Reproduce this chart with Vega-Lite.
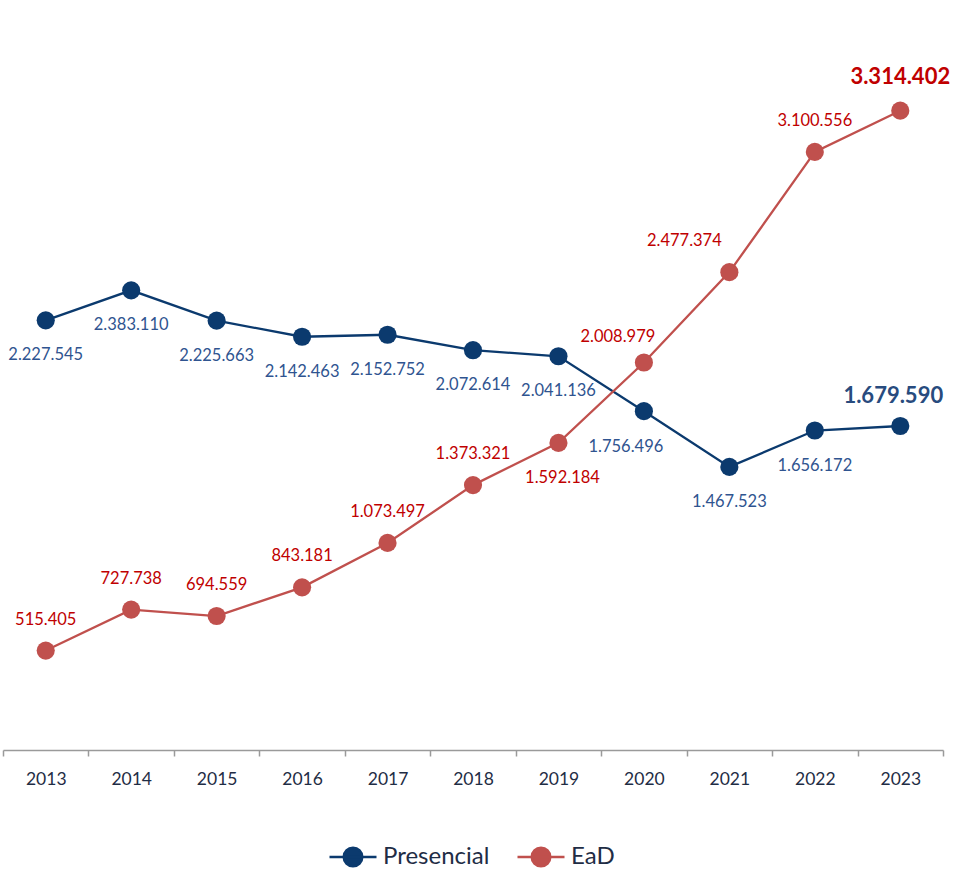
{
  "$schema": "https://vega.github.io/schema/vega-lite/v6.json",
  "width": 940,
  "height": 733,
  "autosize": {"type": "none"},
  "padding": {"left": 3, "top": 17, "right": 23, "bottom": 123},
  "background": "white",
  "config": {
    "view": {"stroke": null},
    "font": "Lato",
    "locale": {"number": {"decimal": ",", "thousands": ".", "grouping": [3], "currency": ["R$", ""]}}
  },
  "data": {
    "values": [
      {"ano": 2013, "serie": "Presencial", "valor": 2227545},
      {"ano": 2014, "serie": "Presencial", "valor": 2383110},
      {"ano": 2015, "serie": "Presencial", "valor": 2225663},
      {"ano": 2016, "serie": "Presencial", "valor": 2142463},
      {"ano": 2017, "serie": "Presencial", "valor": 2152752},
      {"ano": 2018, "serie": "Presencial", "valor": 2072614},
      {"ano": 2019, "serie": "Presencial", "valor": 2041136},
      {"ano": 2020, "serie": "Presencial", "valor": 1756496},
      {"ano": 2021, "serie": "Presencial", "valor": 1467523},
      {"ano": 2022, "serie": "Presencial", "valor": 1656172},
      {"ano": 2023, "serie": "Presencial", "valor": 1679590},
      {"ano": 2013, "serie": "EaD", "valor": 515405},
      {"ano": 2014, "serie": "EaD", "valor": 727738},
      {"ano": 2015, "serie": "EaD", "valor": 694559},
      {"ano": 2016, "serie": "EaD", "valor": 843181},
      {"ano": 2017, "serie": "EaD", "valor": 1073497},
      {"ano": 2018, "serie": "EaD", "valor": 1373321},
      {"ano": 2019, "serie": "EaD", "valor": 1592184},
      {"ano": 2020, "serie": "EaD", "valor": 2008979},
      {"ano": 2021, "serie": "EaD", "valor": 2477374},
      {"ano": 2022, "serie": "EaD", "valor": 3100556},
      {"ano": 2023, "serie": "EaD", "valor": 3314402}
    ]
  },
  "encoding": {
    "x": {
      "field": "ano", "type": "ordinal",
      "scale": {"type": "band", "paddingInner": 0, "paddingOuter": 0},
      "axis": {
        "title": null, "labelAngle": 0, "tickBand": "extent",
        "domainColor": "#9a9a9a", "domainWidth": 1.5,
        "tickColor": "#9a9a9a", "tickWidth": 1.5, "tickSize": 6,
        "labelFontSize": 17.5, "labelColor": "#1f2d45", "labelPadding": 14,
        "grid": false
      }
    },
    "y": {
      "field": "valor", "type": "quantitative",
      "scale": {"domain": [0, 3800000], "nice": false},
      "axis": null
    }
  },
  "layer": [
    {
      "mark": {"type": "line", "strokeWidth": 2.3},
      "encoding": {
        "color": {
          "field": "serie", "type": "nominal",
          "scale": {"domain": ["Presencial", "EaD"], "range": ["#0b3a6e", "#c0504d"]},
          "legend": {
            "title": null, "orient": "none", "legendX": 325, "legendY": 815,
            "direction": "horizontal",
            "symbolType": "M-1,0H1M0.4,0A0.4,0.4,0,1,1,-0.4,0A0.4,0.4,0,1,1,0.4,0Z",
            "symbolSize": 2209, "symbolStrokeWidth": 2.3,
            "labelFontSize": 24, "labelColor": "#1f2d45", "labelOffset": 5,
            "columnPadding": 22,
            "encode": {"symbols": {"update": {"fill": {"scale": "color", "field": "value"}, "stroke": {"scale": "color", "field": "value"}, "opacity": {"value": 1}}}}
          }
        }
      }
    },
    {
      "mark": {"type": "point", "filled": true, "size": 330, "opacity": 1},
      "encoding": {
        "color": {"field": "serie", "type": "nominal", "legend": null}
      }
    },
    {
      "transform": [{"filter": "datum.serie === 'Presencial' && datum.ano !== 2020 && datum.ano !== 2023"}],
      "mark": {"type": "text", "dy": 35, "fontSize": 16.5, "color": "#2f5490"},
      "encoding": {"text": {"field": "valor", "type": "quantitative", "format": ",d"}}
    },
    {
      "transform": [{"filter": "datum.serie === 'Presencial' && datum.ano === 2020"}],
      "mark": {"type": "text", "dx": -18, "dy": 36, "fontSize": 16.5, "color": "#2f5490"},
      "encoding": {"text": {"field": "valor", "type": "quantitative", "format": ",d"}}
    },
    {
      "transform": [{"filter": "datum.serie === 'Presencial' && datum.ano === 2023"}],
      "mark": {"type": "text", "dx": -7, "dy": -30, "fontSize": 22, "fontWeight": "bold", "color": "#284b7e"},
      "encoding": {"text": {"field": "valor", "type": "quantitative", "format": ",d"}}
    },
    {
      "transform": [{"filter": "datum.serie === 'EaD' && (datum.ano <= 2018 || datum.ano === 2022)"}],
      "mark": {"type": "text", "dy": -31, "fontSize": 16.5, "color": "#c00000"},
      "encoding": {"text": {"field": "valor", "type": "quantitative", "format": ",d"}}
    },
    {
      "transform": [{"filter": "datum.serie === 'EaD' && datum.ano === 2019"}],
      "mark": {"type": "text", "dx": 4, "dy": 35, "fontSize": 16.5, "color": "#c00000"},
      "encoding": {"text": {"field": "valor", "type": "quantitative", "format": ",d"}}
    },
    {
      "transform": [{"filter": "datum.serie === 'EaD' && datum.ano === 2020"}],
      "mark": {"type": "text", "dx": -26, "dy": -25, "fontSize": 16.5, "color": "#c00000"},
      "encoding": {"text": {"field": "valor", "type": "quantitative", "format": ",d"}}
    },
    {
      "transform": [{"filter": "datum.serie === 'EaD' && datum.ano === 2021"}],
      "mark": {"type": "text", "dx": -45, "dy": -31, "fontSize": 16.5, "color": "#c00000"},
      "encoding": {"text": {"field": "valor", "type": "quantitative", "format": ",d"}}
    },
    {
      "transform": [{"filter": "datum.serie === 'EaD' && datum.ano === 2023"}],
      "mark": {"type": "text", "dy": -34, "fontSize": 22, "fontWeight": "bold", "color": "#c00000"},
      "encoding": {"text": {"field": "valor", "type": "quantitative", "format": ",d"}}
    }
  ]
}
